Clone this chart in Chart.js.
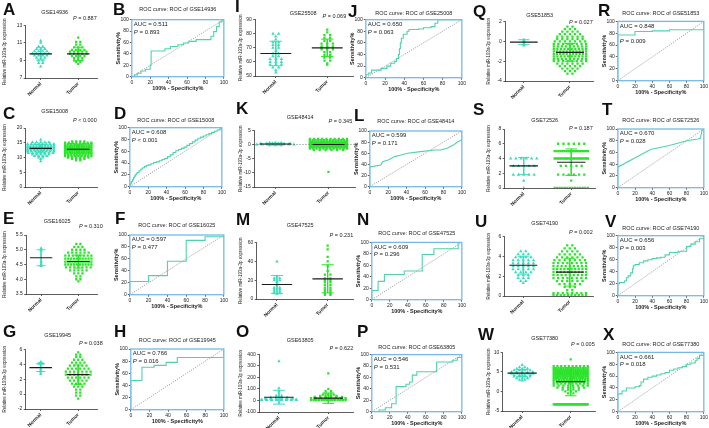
<!DOCTYPE html>
<html>
<head>
<meta charset="utf-8">
<script src="https://cdn.jsdelivr.net/npm/chart.js@4.4.0/dist/chart.umd.min.js"></script>
<style>
  body { margin: 0; background: #fff; }
  #fig { position: relative; width: 709px; height: 428px; overflow: hidden; }
  #fig canvas { position: absolute; }
  .lbl { position: absolute; font: bold 17px "Liberation Sans", Arial, sans-serif; line-height: 1; color: #111; }
</style>
</head>
<body>
<div id="fig"></div>
<script>
// ---------- data ----------
const groupNames = ['Normal', 'Tumor'];
const gseIds = ['GSE14936', 'GSE15008', 'GSE16025', 'GSE19945', 'GSE25508', 'GSE48414', 'GSE47525', 'GSE63805', 'GSE51853', 'GSE72526', 'GSE74190', 'GSE77380'];
const rocIds = ['GSE14936', 'GSE15008', 'GSE16025', 'GSE19945', 'GSE25008', 'GSE48414', 'GSE47525', 'GSE63805', 'GSE51853', 'GSE72526', 'GSE74190', 'GSE77380'];
const groupPValues = ['P = 0.887', 'P < 0.000', 'P = 0.310', 'P = 0.038', 'P = 0.069', 'P = 0.345', 'P = 0.231', 'P = 0.622', 'P = 0.027', 'P = 0.187', 'P = 0.002', 'P = 0.005'];
const aucValues = ['0.511', '0.608', '0.597', '0.766', '0.650', '0.599', '0.609', '0.546', '0.848', '0.670', '0.656', '0.661'];
const rocPValues = ['P = 0.893', 'P < 0.001', 'P = 0.477', 'P = 0.016', 'P = 0.063', 'P = 0.171', 'P = 0.296', 'P = 0.531', 'P = 0.009', 'P = 0.028', 'P = 0.003', 'P = 0.018'];

// y axis ticks of the dot plots
const scatterYMin = [7, 0, 3.5, -2, 50, -15, 0, -100, -4, 0, 0, -5];
const scatterYMax = [13, 20, 5.5, 6, 90, 5, 60, 400, 2, 8, 6, 10];
const scatterYStep = [1, 5, 0.5, 2, 10, 5, 20, 100, 2, 2, 2, 5];

// dot plots: value levels and how many dots sit on each level
const a_normal_vals = [11.25, 11.0, 10.6, 10.3, 10.05, 9.8, 9.55, 9.3, 9.0, 8.7, 8.3];
const a_normal_counts = [1, 1, 2, 3, 4, 5, 4, 3, 2, 2, 1];
const a_tumor_vals = [11.6, 11.1, 10.8, 10.5, 10.2, 10.0, 9.75, 9.5, 9.25, 9.0, 8.8, 8.6];
const a_tumor_counts = [1, 2, 2, 3, 4, 5, 5, 4, 3, 3, 2, 1];
const a_mean = [9.75, 9.75];
const a_sd = [0.7, 0.75];

const c_normal_vals = [16, 15.2, 14.6, 14, 13.5, 13, 12.5, 12, 11.5, 11, 10.5, 10, 9.5, 8.7];
const c_normal_counts = [1, 5, 8, 10, 10, 10, 9, 8, 7, 5, 4, 2, 1, 1];
const c_tumor_vals = [15.5, 15, 14.5, 14, 13.5, 13, 12.5, 12, 11.5, 11, 10.5, 10, 9.5, 9];
const c_tumor_counts = [4, 8, 10, 12, 12, 14, 14, 12, 12, 10, 9, 6, 4, 2];
const c_mean = [13.1, 12.8];
const c_sd = [1.3, 1.5];

const e_normal_vals = [5.05, 4.98, 4.6, 4.5, 4.45];
const e_normal_counts = [1, 1, 1, 1, 1];
const e_tumor_vals = [5.2, 5.1, 5.0, 4.9, 4.8, 4.7, 4.6, 4.5, 4.4, 4.3, 4.2, 4.1, 4.0, 3.93];
const e_tumor_counts = [2, 3, 4, 6, 8, 10, 12, 10, 7, 5, 3, 2, 2, 1];
const e_mean = [4.73, 4.6];
const e_sd = [0.27, 0.22];

const g_normal_vals = [4.3, 4.2, 4.1, 4.0, 3.6, 3.3, 3.0, 2.7];
const g_normal_counts = [1, 1, 2, 1, 1, 1, 1, 1];
const g_tumor_vals = [5.6, 5.3, 5.0, 4.6, 4.2, 3.8, 3.4, 3.0, 2.6, 2.2, 1.8, 1.4, 1.0, 0.6, 0.2, -0.2, -0.6];
const g_tumor_counts = [1, 2, 2, 3, 4, 5, 6, 7, 7, 6, 5, 4, 3, 2, 2, 2, 1];
const g_mean = [3.55, 2.6];
const g_sd = [0.52, 1.3];

const i_normal_vals = [80, 78, 76, 74, 72, 70, 68, 66, 64, 62, 60, 58, 56, 54, 52.5];
const i_normal_counts = [2, 1, 1, 2, 2, 2, 1, 2, 2, 3, 3, 3, 2, 1, 1];
const i_tumor_vals = [83, 81, 79, 77, 75, 73, 71, 70, 69, 67, 65, 63, 61, 59, 58];
const i_tumor_counts = [1, 1, 2, 2, 2, 3, 3, 3, 3, 2, 2, 2, 2, 1, 1];
const i_mean = [66, 70];
const i_sd = [8.7, 6.2];

const k_normal_vals = [0.6, 0.3, 0, -0.3];
const k_normal_counts = [3, 6, 8, 3];
const k_tumor_vals = [2, 1.5, 1, 0.5, 0, -0.5, -1, -1.5, -2, -9.7];
const k_tumor_counts = [10, 14, 18, 22, 26, 22, 18, 12, 6, 1];
const k_mean = [0.15, 0];
const k_sd = [0.3, 0.8];

const m_normal_vals = [40, 24, 22, 20, 18, 15, 12, 10, 8, 6, 5.5];
const m_normal_counts = [1, 1, 2, 2, 1, 1, 2, 2, 2, 2, 1];
const m_tumor_vals = [57, 53, 45, 40, 35, 30, 26, 22, 20, 18, 15, 12, 10, 8, 6, 4.5];
const m_tumor_counts = [1, 1, 1, 1, 1, 1, 2, 2, 2, 2, 2, 2, 2, 2, 2, 2];
const m_mean = [15.5, 21.5];
const m_sd = [9.5, 15];

const o_normal_vals = [340, 105, 80, 40, 25, 15, 8, 3];
const o_normal_counts = [1, 1, 1, 2, 4, 6, 8, 8];
const o_tumor_vals = [235, 100, 80, 60, 50, 40, 30, 20, 10, 3];
const o_tumor_counts = [1, 1, 2, 2, 3, 4, 6, 8, 10, 14];
const o_mean = [28, 20];
const o_sd = [60, 45];

const q_normal_vals = [0.2, 0.1, -0.1, -0.3, -0.4];
const q_normal_counts = [1, 1, 1, 1, 1];
const q_tumor_vals = [1.5, 1.25, 1.0, 0.75, 0.5, 0.25, 0, -0.25, -0.5, -0.75, -1.0, -1.25, -1.5, -1.75, -2.0, -2.25, -2.5, -2.75, -3.0, -3.25];
const q_tumor_counts = [2, 3, 4, 5, 6, 6, 7, 8, 9, 10, 11, 11, 10, 9, 8, 6, 5, 4, 3, 2];
const q_mean = [-0.07, -1.1];
const q_sd = [0.25, 0.9];

const s_normal_vals = [4, 3, 1.8, 1, 0];
const s_normal_counts = [6, 5, 5, 1, 1];
const s_tumor_vals = [6, 5, 4, 3, 1.8, 1, 0];
const s_tumor_counts = [6, 18, 20, 5, 6, 1, 14];
const s_mean = [3.0, 3.5];
const s_sd = [1.15, 1.8];

const u_normal_vals = [4.5, 4.2, 3.9, 3.6, 3.3, 3.0, 2.7, 2.4, 2.1, 1.8, 1.5, 1.3];
const u_normal_counts = [2, 3, 4, 5, 5, 5, 5, 4, 3, 3, 2, 1];
const u_tumor_vals = [5.1, 4.8, 4.5, 4.2, 3.9, 3.6, 3.3, 3.0, 2.7, 2.4, 2.1, 1.8, 1.5, 1.2, 0.9, 0.6, 0.3, 0.1];
const u_tumor_counts = [2, 3, 4, 5, 6, 7, 8, 9, 10, 10, 9, 8, 6, 5, 3, 2, 8, 10];
const u_mean = [3.1, 2.4];
const u_sd = [0.9, 1.4];

const w_normal_vals = [6.8, 6.2, 5.8, 5.4, 5.0, 4.6, 4.2, 3.8, 3.4, 3.0, 2.8];
const w_normal_counts = [1, 2, 3, 4, 5, 5, 4, 4, 3, 2, 1];
const w_tumor_vals = [8.2, 6.5, 6, 5.5, 5, 4.5, 4, 3.5, 3, 2.5, 2, 1.5, 1, 0.5, 0, -0.5, -3.3];
const w_tumor_counts = [1, 10, 15, 18, 20, 20, 18, 16, 14, 12, 10, 8, 6, 4, 3, 2, 40];
const w_mean = [4.7, 2.5];
const w_sd = [0.9, 3.6];

// ROC curves: 100% - specificity (x) and sensitivity (y), in %
const b_fpr = [0, 3, 6, 10, 15, 20, 21, 36, 42, 50, 56, 62, 70, 86, 89, 92, 95, 98, 100];
const b_tpr = [0, 3, 6, 10, 13, 20, 45, 49, 53, 56, 59, 62, 65, 71, 79, 88, 96, 100, 100];
const d_fpr = [0, 1, 2, 3, 4, 5, 6, 7, 8, 10, 12, 14, 16, 18, 20, 23, 26, 29, 32, 35, 38, 41, 44, 47, 50, 53, 56, 59, 62, 65, 68, 71, 74, 77, 80, 83, 86, 89, 92, 95, 98, 100];
const d_tpr = [3, 6, 9, 12, 15, 18, 20, 22, 24, 27, 30, 32, 34, 36, 37, 39, 41, 42, 44, 46, 48, 51, 54, 58, 61, 63, 65, 67, 70, 73, 76, 79, 82, 84, 86, 88, 90, 92, 94, 96, 98, 100];
const f_fpr = [0, 0, 20, 40, 60, 80, 100];
const f_tpr = [0, 22, 32, 56, 91, 97, 100];
const h_fpr = [0, 0, 12, 25, 38, 50, 100, 100];
const h_tpr = [0, 48, 70, 73, 78, 86, 86, 100];
const j_fpr = [0, 0, 3, 6, 16, 22, 26, 30, 32, 34, 35, 36, 37, 39, 43, 45, 55, 60, 68, 72, 75, 100];
const j_tpr = [0, 5, 8, 13, 16, 20, 25, 28, 33, 40, 50, 60, 68, 75, 80, 83, 84, 86, 88, 94, 100, 100];
const l_fpr = [0, 0, 2, 12, 14, 20, 27, 34, 41, 55, 70, 77, 84, 91, 96, 100, 100];
const l_tpr = [0, 35, 36, 39, 45, 48, 54, 57, 60, 63, 66, 66, 69, 75, 81, 84, 100];
const n_fpr = [0, 0, 7, 14, 36, 56, 69, 96, 100];
const n_tpr = [0, 16, 32, 44, 50, 79, 89, 100, 100];
const p_fpr = [0, 8, 8, 15, 22, 27, 38, 42, 45, 50, 72, 90, 95, 100];
const p_tpr = [0, 0, 3, 7, 14, 44, 48, 52, 64, 70, 87, 90, 95, 100];
const r_fpr = [0, 0, 20, 40, 60, 100, 100];
const r_tpr = [0, 77, 83, 84, 86, 87, 100];
const t_fpr = [0, 0, 38, 60, 80, 93, 96, 98, 100];
const t_tpr = [0, 35, 65, 72, 80, 83, 84, 98, 100];
const v_fpr = [0, 0, 2, 8, 10, 12, 15, 17, 18, 20, 25, 30, 35, 40, 45, 50, 55, 60, 70, 80, 85, 90, 95, 100, 100];
const v_tpr = [0, 20, 22, 25, 30, 33, 38, 45, 50, 52, 55, 58, 60, 62, 63, 64, 68, 72, 74, 82, 86, 90, 95, 98, 100];
const x_fpr = [0, 0, 5, 10, 20, 25, 27, 30, 35, 40, 45, 50, 55, 60, 65, 70, 75, 80, 85, 90, 92, 95, 100];
const x_tpr = [0, 30, 35, 40, 42, 44, 50, 55, 58, 60, 62, 64, 66, 70, 72, 74, 76, 80, 82, 86, 90, 95, 100];

// ---------- wiring ----------
const scatterGroups = [
  [a_normal_vals, a_normal_counts, a_tumor_vals, a_tumor_counts, a_mean, a_sd],
  [c_normal_vals, c_normal_counts, c_tumor_vals, c_tumor_counts, c_mean, c_sd],
  [e_normal_vals, e_normal_counts, e_tumor_vals, e_tumor_counts, e_mean, e_sd],
  [g_normal_vals, g_normal_counts, g_tumor_vals, g_tumor_counts, g_mean, g_sd],
  [i_normal_vals, i_normal_counts, i_tumor_vals, i_tumor_counts, i_mean, i_sd],
  [k_normal_vals, k_normal_counts, k_tumor_vals, k_tumor_counts, k_mean, k_sd],
  [m_normal_vals, m_normal_counts, m_tumor_vals, m_tumor_counts, m_mean, m_sd],
  [o_normal_vals, o_normal_counts, o_tumor_vals, o_tumor_counts, o_mean, o_sd],
  [q_normal_vals, q_normal_counts, q_tumor_vals, q_tumor_counts, q_mean, q_sd],
  [s_normal_vals, s_normal_counts, s_tumor_vals, s_tumor_counts, s_mean, s_sd],
  [u_normal_vals, u_normal_counts, u_tumor_vals, u_tumor_counts, u_mean, u_sd],
  [w_normal_vals, w_normal_counts, w_tumor_vals, w_tumor_counts, w_mean, w_sd]
];
const rocCurves = [
  [b_fpr, b_tpr], [d_fpr, d_tpr], [f_fpr, f_tpr], [h_fpr, h_tpr],
  [j_fpr, j_tpr], [l_fpr, l_tpr], [n_fpr, n_tpr], [p_fpr, p_tpr],
  [r_fpr, r_tpr], [t_fpr, t_tpr], [v_fpr, v_tpr], [x_fpr, x_tpr]
];
const rocStepped = [true, true, true, true, true, false, true, true, true, false, true, true];

// layout (page pixels): plot area, title, P text, y title centre
const scatterBoxes = [
  { l: 26, r: 97, t: 25, b: 78, tx: 55, ty: 11.7, pr: 97, py: 18.3, yt: 5 },
  { l: 26, r: 97, t: 127.7, b: 186.5, tx: 55, ty: 110.7, pr: 97, py: 120, yt: 5 },
  { l: 26.5, r: 97, t: 235, b: 294, tx: 57.5, ty: 221, pr: 103, py: 226, yt: 5 },
  { l: 26, r: 97, t: 349.3, b: 409.3, tx: 58, ty: 335, pr: 103, py: 343.3, yt: 5 },
  { l: 255, r: 353, t: 20, b: 76, tx: 303, ty: 13.3, pr: 346, py: 16.5, yt: 240.5 },
  { l: 254, r: 355, t: 130, b: 186.7, tx: 300, ty: 116.7, pr: 352, py: 121, yt: 240.5 },
  { l: 256.5, r: 353, t: 242.7, b: 299.3, tx: 300, ty: 225, pr: 353, py: 235, yt: 240.5 },
  { l: 259, r: 353, t: 354.3, b: 411.7, tx: 300, ty: 340, pr: 353, py: 348, yt: 240.5 },
  { l: 505.7, r: 593, t: 21.7, b: 81, tx: 540, ty: 15, pr: 593, py: 22.7, yt: 489 },
  { l: 505, r: 595, t: 129, b: 187.7, tx: 545, ty: 120, pr: 593, py: 128.3, yt: 489 },
  { l: 505, r: 593, t: 236.7, b: 296, tx: 545, ty: 223.3, pr: 593, py: 232.7, yt: 489 },
  { l: 503, r: 595, t: 352.7, b: 411.7, tx: 545, ty: 338.3, pr: 595, py: 345, yt: 489 }
];
const rocBoxes = [
  { l: 131.7, r: 225, t: 20, b: 77, ty: 9.3 },
  { l: 129.3, r: 222.7, t: 127.7, b: 186.7, ty: 120 },
  { l: 130, r: 225, t: 235, b: 295, ty: 225 },
  { l: 130.7, r: 225, t: 349, b: 410, ty: 340 },
  { l: 366, r: 463, t: 20, b: 78, ty: 13.3 },
  { l: 370, r: 463, t: 131, b: 186.7, ty: 121 },
  { l: 371.7, r: 463, t: 242.7, b: 300, ty: 233.3 },
  { l: 371.7, r: 463, t: 354.3, b: 411.7, ty: 346.7 },
  { l: 617.7, r: 705, t: 21.7, b: 81, ty: 13.3 },
  { l: 618, r: 705, t: 129, b: 188, ty: 120 },
  { l: 618, r: 705, t: 236, b: 296, ty: 228.3 },
  { l: 618, r: 705, t: 352.7, b: 411.7, ty: 344.3 }
];
const scatterLetters = [['A', 3, 2.7], ['C', 3, 107], ['E', 3, 212], ['G', 3, 325], ['I', 235, 0], ['K', 236, 102], ['M', 236, 213], ['O', 236, 325], ['Q', 473, 5], ['S', 473, 103], ['U', 475, 215], ['W', 478, 328]];
const rocLetters = [['B', 113, 3.5], ['D', 114, 107], ['F', 115, 212], ['H', 114, 325], ['J', 348, 5], ['L', 354, 109], ['N', 357, 213], ['P', 357, 325], ['R', 598, 4], ['T', 602, 103], ['V', 605, 215], ['X', 603, 328]];

const NORMAL_COLOR = '#3ddcbd';
const TUMOR_COLOR = '#2be32b';
const ROC_COLOR = '#4ed3ad';
const BOX_COLOR = '#76b9e6';
const INK = '#222';
const FONT = '"Liberation Sans", Arial, sans-serif';
Chart.defaults.font.family = FONT;
Chart.defaults.color = INK;

const fig = document.getElementById('fig');

function makeCanvas(x, y, w, h) {
  const c = document.createElement('canvas');
  c.width = Math.round(w);
  c.height = Math.round(h);
  c.style.left = x + 'px';
  c.style.top = y + 'px';
  c.style.width = Math.round(w) + 'px';
  c.style.height = Math.round(h) + 'px';
  fig.appendChild(c);
  return c;
}

function addLetter(letter, x, y) {
  const d = document.createElement('div');
  d.className = 'lbl';
  d.textContent = letter;
  d.style.left = x + 'px';
  d.style.top = (y - 2.2) + 'px';
  fig.appendChild(d);
}

function drawPText(ctx, text, x, y, size, align) {
  const rest = text.slice(1);
  ctx.textAlign = 'left';
  ctx.font = `italic ${size}px ${FONT}`;
  const wp = ctx.measureText('P').width;
  ctx.font = `${size}px ${FONT}`;
  const wr = ctx.measureText(rest).width;
  const x0 = align === 'right' ? x - wp - wr : x;
  ctx.font = `italic ${size}px ${FONT}`;
  ctx.fillText('P', x0, y);
  ctx.font = `${size}px ${FONT}`;
  ctx.fillText(rest, x0 + wp, y);
}

// spread the dots of each level sideways, like a column scatter plot
function swarm(vals, counts, center) {
  const pts = [];
  vals.forEach((v, k) => {
    const n = counts[k];
    const dx = n > 1 ? Math.min(0.11, 0.7 / (n - 1)) : 0;
    for (let j = 0; j < n; j++) pts.push({ x: center + (j - (n - 1) / 2) * dx, y: v });
  });
  return pts;
}

function sdPath(c, m, s) {
  const cap = 0.12;
  return [
    { x: c - cap, y: m + s }, { x: c + cap, y: m + s }, { x: c, y: null },
    { x: c, y: m + s }, { x: c, y: m - s }, { x: c, y: null },
    { x: c - cap, y: m - s }, { x: c + cap, y: m - s }
  ];
}

function meanPath(c, m) {
  return [{ x: c - 0.3, y: m }, { x: c + 0.3, y: m }];
}

function drawScatter(i) {
  const bx = scatterBoxes[i];
  const [nv, nc, tv, tc, mean, sd] = scatterGroups[i];
  const lh = 4.5 * 1.2;
  const cx = bx.yt - lh / 2 - 1;
  const cy = bx.ty - 5;
  const cw = Math.max(bx.r, bx.pr) + 5 - cx;
  const ch = bx.b + 26 - cy;
  const yw = bx.l - cx - 1;
  const xh = ch - (bx.b - cy);
  const canvas = makeCanvas(cx, cy, cw, ch);
  const step = scatterYStep[i];

  const datasets = [
    { data: swarm(nv, nc, 0), pointStyle: 'triangle', pointRadius: 2, backgroundColor: NORMAL_COLOR, borderWidth: 0, order: 3 },
    { data: swarm(tv, tc, 1), pointStyle: 'rect', pointRadius: 1.6, backgroundColor: TUMOR_COLOR, borderWidth: 0, order: 3 },
    { data: sdPath(0, mean[0], sd[0]), showLine: true, spanGaps: false, borderColor: NORMAL_COLOR, borderWidth: 1, pointRadius: 0, order: 1 },
    { data: sdPath(1, mean[1], sd[1]), showLine: true, spanGaps: false, borderColor: TUMOR_COLOR, borderWidth: 1, pointRadius: 0, order: 1 },
    { data: meanPath(0, mean[0]), showLine: true, borderColor: '#1b1b1b', borderWidth: 1.1, pointRadius: 0, order: 0 },
    { data: meanPath(1, mean[1]), showLine: true, borderColor: '#1b1b1b', borderWidth: 1.1, pointRadius: 0, order: 0 }
  ];
  if (i === 5) {
    // dotted zero line of GSE48414
    datasets.push({ data: [{ x: -0.4, y: 0 }, { x: 1.5, y: 0 }], showLine: true, borderColor: '#666', borderWidth: 0.6, borderDash: [1.5, 1.5], pointRadius: 0, order: 2 });
  }

  new Chart(canvas, {
    type: 'scatter',
    data: { datasets },
    options: {
      responsive: false,
      animation: false,
      events: [],
      layout: { padding: { left: 1, top: bx.t - cy, right: cw - (bx.r - cx), bottom: 0 } },
      plugins: { legend: { display: false }, tooltip: { enabled: false } },
      scales: {
        x: {
          type: 'linear', min: -0.4, max: 1.5,
          afterBuildTicks: s => { s.ticks = [{ value: 0 }, { value: 1 }]; },
          ticks: { callback: v => groupNames[v], minRotation: 45, maxRotation: 45, autoSkip: false, font: { size: 5, weight: 'bold' }, padding: 1 },
          grid: { drawOnChartArea: false, tickLength: 2, color: '#333', lineWidth: 0.8 },
          border: { color: '#333', width: 0.8 },
          afterFit: s => { s.height = xh; }
        },
        y: {
          min: scatterYMin[i], max: scatterYMax[i],
          ticks: { stepSize: step, font: { size: 5 }, padding: 1.5, callback: v => step < 1 ? v.toFixed(1) : v },
          grid: { drawOnChartArea: false, tickLength: 2, color: '#333', lineWidth: 0.8 },
          border: { color: '#333', width: 0.8 },
          title: { display: true, text: 'Relative miR-193a-3p expression', font: { size: 4.5 }, padding: 0 },
          afterFit: s => { s.width = yw; }
        }
      }
    },
    plugins: [{
      id: 'scatterText',
      afterDraw(chart) {
        const ctx = chart.ctx;
        ctx.save();
        ctx.fillStyle = INK;
        ctx.textBaseline = 'middle';
        ctx.textAlign = 'center';
        ctx.font = `5.5px ${FONT}`;
        ctx.fillText(gseIds[i], bx.tx - cx, bx.ty - cy);
        drawPText(ctx, groupPValues[i], bx.pr - cx, bx.py - cy, 5.5, 'right');
        ctx.restore();
      }
    }]
  });
}

function drawRoc(i) {
  const bx = rocBoxes[i];
  const [fpr, tpr] = rocCurves[i];
  const lh = 5.5 * 1.2;
  const ytX = bx.l - 13.5;
  const xtY = bx.b + 12;
  const cx = ytX - lh / 2 - 1;
  const cy = bx.ty - 5;
  const cw = bx.r + 4 - cx;
  const ch = xtY + lh / 2 + 1 - cy;
  const yw = bx.l - cx - 1;
  const xh = (xtY + lh / 2) - bx.b;
  const canvas = makeCanvas(cx, cy, cw, ch);

  const axisCommon = {
    min: 0, max: 100,
    ticks: { stepSize: 20, font: { size: 5 }, padding: 1 },
    grid: { drawOnChartArea: false, tickLength: 2, color: '#333', lineWidth: 0.8 },
    border: { display: false }
  };

  new Chart(canvas, {
    type: 'scatter',
    data: {
      datasets: [
        { data: fpr.map((x, k) => ({ x, y: tpr[k] })), showLine: true, stepped: rocStepped[i] ? 'before' : false, borderColor: ROC_COLOR, borderWidth: 1.1, pointRadius: 0 },
        { data: [{ x: 0, y: 0 }, { x: 100, y: 100 }], showLine: true, borderColor: '#666', borderWidth: 0.6, borderDash: [1.2, 1.2], pointRadius: 0 }
      ]
    },
    options: {
      responsive: false,
      animation: false,
      events: [],
      layout: { padding: { left: 1, top: bx.t - cy, right: cw - (bx.r - cx), bottom: 1 } },
      plugins: { legend: { display: false }, tooltip: { enabled: false } },
      scales: {
        x: Object.assign({}, axisCommon, {
          title: { display: true, text: '100% - Specificity%', font: { size: 5.5, weight: 'bold' }, padding: 0 },
          afterFit: s => { s.height = xh; }
        }),
        y: Object.assign({}, axisCommon, {
          title: { display: true, text: 'Sensitivity%', font: { size: 5.5, weight: 'bold' }, padding: 0 },
          afterFit: s => { s.width = yw; }
        })
      }
    },
    plugins: [{
      id: 'rocDecor',
      afterDatasetsDraw(chart) {
        const { ctx, chartArea: a } = chart;
        ctx.save();
        ctx.strokeStyle = BOX_COLOR;
        ctx.lineWidth = 1.3;
        ctx.strokeRect(a.left, a.top, a.right - a.left, a.bottom - a.top);
        ctx.fillStyle = INK;
        ctx.textBaseline = 'middle';
        ctx.textAlign = 'left';
        ctx.font = `6px ${FONT}`;
        ctx.fillText('AUC = ' + aucValues[i], a.left + 2, a.top + 4.5);
        drawPText(ctx, rocPValues[i], a.left + 2, a.top + (i === 8 ? 20 : 12.3), 6, 'left');
        ctx.textAlign = 'center';
        ctx.font = `5.5px ${FONT}`;
        ctx.fillText('ROC curve: ROC of ' + rocIds[i], (a.left + a.right) / 2, bx.ty - cy);
        ctx.restore();
      }
    }]
  });
}

for (let i = 0; i < 12; i++) {
  drawScatter(i);
  drawRoc(i);
}
scatterLetters.forEach(([t, x, y]) => addLetter(t, x, y));
rocLetters.forEach(([t, x, y]) => addLetter(t, x, y));
</script>
</body>
</html>
